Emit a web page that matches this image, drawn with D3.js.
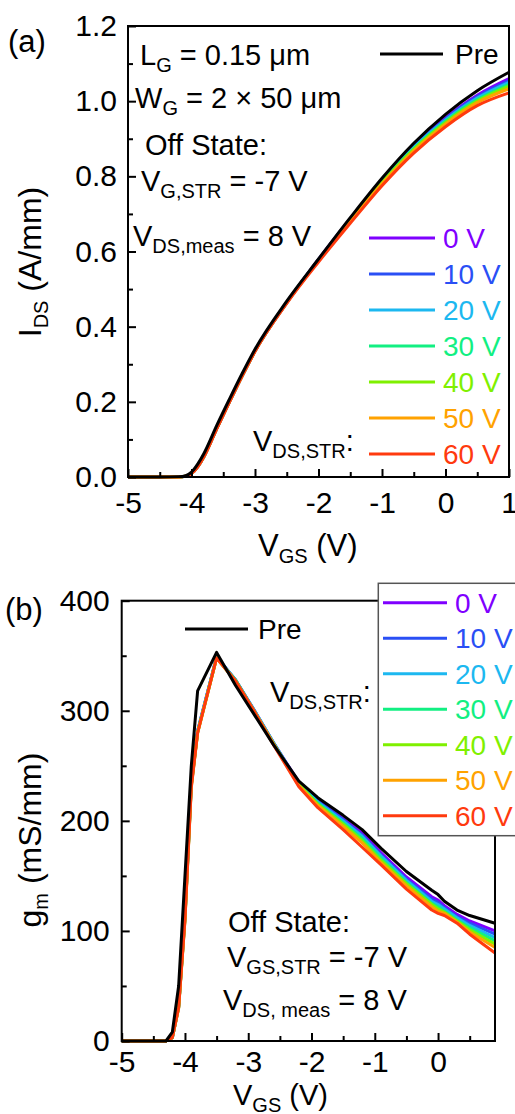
<!DOCTYPE html>
<html>
<head>
<meta charset="utf-8">
<script src="https://cdn.jsdelivr.net/npm/d3@7"></script>
<style>
  body { margin: 0; background: #fff; }
  svg text { font-family: "Liberation Sans", Arial, sans-serif; white-space: pre; }
</style>
</head>
<body>
<svg width="515" height="1114"></svg>
<script>
// ---- data ----
const stressLabels = ["0 V", "10 V", "20 V", "30 V", "40 V", "50 V", "60 V"];
const stressColors = ["#7f00ff", "#2a4ff5", "#1cb8f0", "#12ef82", "#7ff000", "#ffa200", "#ff3a0e"];

// panel (a): transfer curves, I_DS (A/mm) vs V_GS (V)
const vgsA = [-5, -4.5, -4.2, -4.1, -4.0, -3.9, -3.8, -3.6, -3.4, -3.2, -3.0, -2.5, -2.0, -1.5, -1.0, -0.5, 0, 0.5, 1.0];
const idsPre = [0, 0, 0.001, 0.003, 0.013, 0.035, 0.064, 0.138, 0.208, 0.276, 0.34, 0.468, 0.58, 0.69, 0.795, 0.888, 0.965, 1.028, 1.077];
const ids0V  = [0, 0, 0, 0.002, 0.009, 0.028, 0.056, 0.13, 0.201, 0.27, 0.335, 0.464, 0.579, 0.687, 0.790, 0.881, 0.956, 1.016, 1.060];
const ids10V = [0, 0, 0, 0.002, 0.009, 0.028, 0.056, 0.13, 0.201, 0.27, 0.335, 0.464, 0.578, 0.686, 0.788, 0.879, 0.953, 1.012, 1.055];
const ids20V = [0, 0, 0, 0.002, 0.009, 0.028, 0.056, 0.13, 0.201, 0.27, 0.335, 0.464, 0.578, 0.685, 0.787, 0.877, 0.950, 1.008, 1.050];
const ids30V = [0, 0, 0, 0.002, 0.009, 0.028, 0.056, 0.13, 0.201, 0.27, 0.335, 0.464, 0.577, 0.684, 0.785, 0.874, 0.947, 1.004, 1.045];
const ids40V = [0, 0, 0, 0.002, 0.009, 0.028, 0.056, 0.13, 0.201, 0.27, 0.335, 0.464, 0.576, 0.682, 0.783, 0.872, 0.943, 1.000, 1.040];
const ids50V = [0, 0, 0, 0.002, 0.009, 0.028, 0.056, 0.13, 0.201, 0.27, 0.335, 0.464, 0.575, 0.680, 0.780, 0.868, 0.939, 0.996, 1.033];
const ids60V = [0, 0, 0, 0.002, 0.009, 0.027, 0.055, 0.129, 0.2, 0.269, 0.334, 0.462, 0.572, 0.675, 0.775, 0.862, 0.932, 0.988, 1.022];

// panel (b): transconductance g_m (mS/mm) vs V_GS (V)
const vgsB = [-5, -4.5, -4.3, -4.2, -4.1, -4.0, -3.9, -3.8, -3.5, -3.2, -2.9, -2.6, -2.2, -1.9, -1.5, -1.2, -0.9, -0.5, -0.1, 0, 0.1, 0.3, 0.5, 0.9];
const gmPre = [0, 0, 0, 8, 50, 150, 250, 318, 353, 323, 296, 269, 236, 221, 205, 192, 175, 154, 137, 133, 127, 119, 114, 107];
const gm0V  = [0, 0, 0, 3, 32, 115, 235, 282, 349, 328, 300, 271, 235, 219, 202, 189, 171, 149, 131, 128, 123, 115, 109, 100];
const gm10V = [0, 0, 0, 3, 31, 113, 234, 281, 349, 328, 300, 271, 234, 218, 201, 187, 169, 147, 129, 126, 121, 113, 107, 97];
const gm20V = [0, 0, 0, 3, 31, 112, 233, 281, 349, 328, 300, 271, 234, 217, 200, 186, 168, 146, 127, 124, 120, 112, 105, 94];
const gm30V = [0, 0, 0, 3, 31, 112, 232, 281, 348, 328, 299, 270, 233, 216, 198, 184, 166, 144, 125, 122, 118, 110, 103, 91];
const gm40V = [0, 0, 0, 3, 30, 111, 232, 280, 348, 327, 299, 270, 233, 215, 197, 182, 164, 143, 124, 120, 117, 109, 101, 88];
const gm50V = [0, 0, 0, 3, 30, 110, 231, 280, 348, 327, 299, 270, 232, 214, 195, 180, 162, 141, 122, 118, 116, 108, 99, 85];
const gm60V = [0, 0, 0, 3, 30, 110, 230, 280, 348, 327, 299, 269, 231, 212, 192, 176, 160, 138, 119, 116, 114, 107, 97, 80];

const xTicksA = [-5, -4, -3, -2, -1, 0, 1];
const yTicksA = [0, 0.2, 0.4, 0.6, 0.8, 1.0, 1.2];
const xTicksB = [-5, -4, -3, -2, -1, 0];
const yTicksB = [0, 100, 200, 300, 400];

const idsStress = [ids0V, ids10V, ids20V, ids30V, ids40V, ids50V, ids60V];
const gmStress = [gm0V, gm10V, gm20V, gm30V, gm40V, gm50V, gm60V];

// ---- layout ----
const FS = 28, TICK = 30, ANN = 29, SUB = 20;
const svg = d3.select("svg");

function rich(g, x, y, parts, size) {
  size = size || ANN;
  const t = g.append("text").attr("x", x).attr("y", y).attr("font-size", size).attr("fill", "#000");
  let shift = 0;
  parts.forEach(p => {
    const isSub = Array.isArray(p);
    const s = isSub ? p[0] : p;
    const off = isSub ? 7 : 0;
    t.append("tspan").attr("dy", off - shift).attr("font-size", isSub ? SUB : size).text(s);
    shift = off;
  });
  return t;
}

function panel(opt) {
  const x = d3.scaleLinear().domain(opt.xDomain).range([opt.left, opt.right]);
  const y = d3.scaleLinear().domain(opt.yDomain).range([opt.bottom, opt.top]);
  const g = svg.append("g");

  // curves
  const line = (xs) => d3.line().x((d, i) => x(xs[i])).y(d => y(d)).curve(opt.curve);
  opt.stress.forEach((s, i) => {
    g.append("path").attr("d", line(opt.xs)(s)).attr("fill", "none")
      .attr("stroke", stressColors[i]).attr("stroke-width", 3).attr("stroke-linejoin", "round");
  });
  g.append("path").attr("d", line(opt.xs)(opt.pre)).attr("fill", "none")
    .attr("stroke", "#000").attr("stroke-width", 3).attr("stroke-linejoin", "round");

  // axes
  const styleAx = a => a.call(s => s.select(".domain").remove())
    .call(s => s.selectAll("line").attr("stroke", "#000").attr("stroke-width", 2))
    .call(s => s.selectAll("text").attr("font-size", TICK).attr("fill", "#000")
      .attr("font-family", "Liberation Sans, Arial, sans-serif"));

  g.append("g").attr("transform", `translate(0,${opt.bottom})`)
    .call(d3.axisBottom(x).tickValues(opt.xMinor).tickSize(-5).tickFormat(""))
    .call(styleAx);
  g.append("g").attr("transform", `translate(0,${opt.bottom})`)
    .call(d3.axisBottom(x).tickValues(opt.xTicks).tickSizeInner(-8).tickSizeOuter(0)
      .tickPadding(opt.xPad).tickFormat(d => String(d)))
    .call(styleAx);
  g.append("g").attr("transform", `translate(${opt.left},0)`)
    .call(d3.axisLeft(y).tickValues(opt.yMinor).tickSize(-5).tickFormat(""))
    .call(styleAx);
  g.append("g").attr("transform", `translate(${opt.left},0)`)
    .call(d3.axisLeft(y).tickValues(opt.yTicks).tickSizeInner(-8).tickSizeOuter(0)
      .tickPadding(opt.yPad).tickFormat(opt.yFmt))
    .call(styleAx);

  g.append("rect").attr("x", opt.left).attr("y", opt.top)
    .attr("width", opt.right - opt.left).attr("height", opt.bottom - opt.top)
    .attr("fill", "none").attr("stroke", "#000").attr("stroke-width", 2);
  return { g, x, y };
}

// ---------- panel (a) ----------
const A = panel({
  left: 128, right: 509, top: 26, bottom: 477,
  xDomain: [-5, 1], yDomain: [0, 1.2],
  xs: vgsA, pre: idsPre, stress: idsStress, curve: d3.curveMonotoneX,
  xTicks: xTicksA, xMinor: [-4.5, -3.5, -2.5, -1.5, -0.5, 0.5],
  yTicks: yTicksA, yMinor: [0.1, 0.3, 0.5, 0.7, 0.9, 1.1],
  xPad: 15, yPad: 11, yFmt: d3.format(".1f")
});

svg.append("text").attr("x", 8).attr("y", 52).attr("font-size", 31).text("(a)");
rich(svg, 140, 65, ["L", ["G"], " = 0.15 μm"]);
rich(svg, 135, 108, ["W", ["G"], " = 2 × 50 μm"]);
rich(svg, 145, 155, ["Off State:"]);
rich(svg, 141, 191, ["V", ["G,STR"], " = -7 V"]);
rich(svg, 133, 246, ["V", ["DS,meas"], " = 8 V"]);
rich(svg, 253, 451, ["V", ["DS,STR"], ":"]);

rich(svg, 258, 556, ["V", ["GS"], " (V)"], 31);
rich(svg.append("g").attr("transform", "translate(41,262) rotate(-90)"), 0, 0, ["I", ["DS"], " (A/mm)"], 32)
  .attr("text-anchor", "middle");

// legend (a)
svg.append("line").attr("x1", 380).attr("x2", 443).attr("y1", 54).attr("y2", 54)
  .attr("stroke", "#000").attr("stroke-width", 3);
svg.append("text").attr("x", 455).attr("y", 54).attr("dy", "0.35em").attr("font-size", FS).text("Pre");
stressLabels.forEach((s, i) => {
  const yy = 238 + i * 36;
  svg.append("line").attr("x1", 369).attr("x2", 435).attr("y1", yy).attr("y2", yy)
    .attr("stroke", stressColors[i]).attr("stroke-width", 3);
  svg.append("text").attr("x", 443).attr("y", yy).attr("dy", "0.35em")
    .attr("font-size", FS).attr("fill", stressColors[i]).text(s);
});

// ---------- panel (b) ----------
const B = panel({
  left: 121.7, right: 495, top: 600.7, bottom: 1041,
  xDomain: [-5, 0.9], yDomain: [0, 400],
  xs: vgsB, pre: gmPre, stress: gmStress, curve: d3.curveLinear,
  xTicks: xTicksB, xMinor: [-4.5, -3.5, -2.5, -1.5, -0.5, 0.5],
  yTicks: yTicksB, yMinor: [50, 150, 250, 350],
  xPad: 10, yPad: 12, yFmt: d3.format("d")
});

svg.append("text").attr("x", 5).attr("y", 620).attr("font-size", 31).text("(b)");
rich(svg, 228, 932, ["Off State:"]);
rich(svg, 227, 967, ["V", ["GS,STR"], " = -7 V"]);
rich(svg, 223, 1010, ["V", ["DS, meas"], " = 8 V"]);
rich(svg, 270, 702, ["V", ["DS,STR"], ":"]);

rich(svg, 233, 1105, ["V", ["GS"], " (V)"], 29);
rich(svg.append("g").attr("transform", "translate(41,840) rotate(-90)"), 0, 0, ["g", ["m"], " (mS/mm)"], 32)
  .attr("text-anchor", "middle");

svg.append("line").attr("x1", 185).attr("x2", 248).attr("y1", 629).attr("y2", 629)
  .attr("stroke", "#000").attr("stroke-width", 3);
svg.append("text").attr("x", 258).attr("y", 629).attr("dy", "0.35em").attr("font-size", FS).text("Pre");

svg.append("rect").attr("x", 378.3).attr("y", 583.3).attr("width", 150).attr("height", 252.4)
  .attr("fill", "#fff").attr("stroke", "#555").attr("stroke-width", 1.5);
stressLabels.forEach((s, i) => {
  const yy = 602.7 + i * 35.5;
  svg.append("line").attr("x1", 383).attr("x2", 447).attr("y1", yy).attr("y2", yy)
    .attr("stroke", stressColors[i]).attr("stroke-width", 3);
  svg.append("text").attr("x", 455).attr("y", yy).attr("dy", "0.35em")
    .attr("font-size", FS).attr("fill", stressColors[i]).text(s);
});
</script>
</body>
</html>
